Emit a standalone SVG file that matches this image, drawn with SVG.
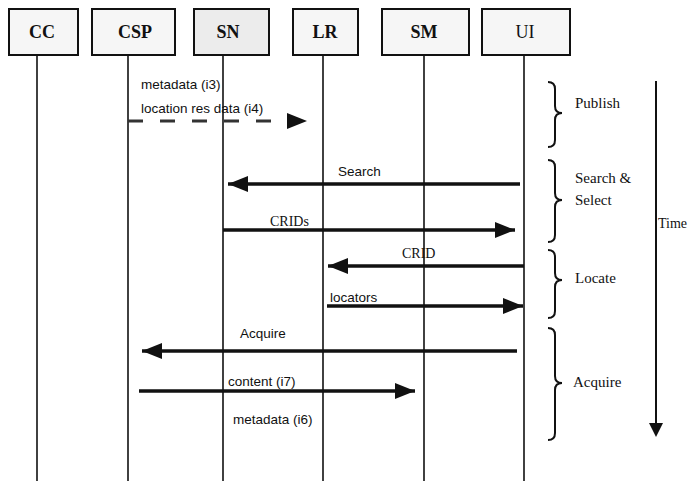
<svg xmlns="http://www.w3.org/2000/svg" width="692" height="481" viewBox="0 0 692 481">
<style>
.box{fill:#f6f6f6;stroke:#111;stroke-width:2}
.bt{font-family:"Liberation Serif",serif;font-size:18px;font-weight:bold;text-anchor:middle;fill:#111}
.life{stroke:#111;stroke-width:1.6}
.msg{stroke:#111;stroke-width:3.5;fill:none}
.dash{stroke:#333;stroke-width:3;stroke-dasharray:15 17;fill:none}
.lbl{font-family:"Liberation Sans",sans-serif;font-size:13.5px;fill:#111}
.lbs{font-family:"Liberation Serif",serif;font-size:14px;fill:#111}
.brace{fill:none;stroke:#111;stroke-width:2}
.ph{font-family:"Liberation Serif",serif;font-size:15px;fill:#111}
</style>
<defs>
<marker id="ah" viewBox="0 0 20 16" refX="20" refY="8" markerWidth="20" markerHeight="16" markerUnits="userSpaceOnUse" orient="auto">
<path d="M0,0 L20,8 L0,16 Z" fill="#111"/>
</marker>
</defs>
<g id="lifelines">
<line class="life" x1="37" y1="55" x2="37" y2="481"/>
<line class="life" x1="128" y1="55" x2="128" y2="481"/>
<line class="life" x1="223" y1="55" x2="223" y2="481"/>
<line class="life" x1="323" y1="55" x2="323" y2="481"/>
<line class="life" x1="424" y1="55" x2="424" y2="481"/>
<line class="life" x1="524" y1="55" x2="524" y2="481"/>
</g>
<g id="node-CC"><rect class="box" x="9" y="9" width="69" height="46"/><text class="bt" x="42" y="38">CC</text></g>
<g id="node-CSP"><rect class="box" x="92" y="9" width="83" height="46"/><text class="bt" x="135" y="38">CSP</text></g>
<g id="node-SN"><rect class="box" x="194" y="9" width="75" height="46" style="fill:#ececec"/><text class="bt" x="228" y="38">SN</text></g>
<g id="node-LR"><rect class="box" x="293" y="9" width="65" height="46"/><text class="bt" x="325" y="38">LR</text></g>
<g id="node-SM"><rect class="box" x="382" y="9" width="87" height="46"/><text class="bt" x="424" y="38">SM</text></g>
<g id="node-UI"><rect class="box" x="482" y="9" width="88" height="46"/><text class="bt" x="525" y="38" style="font-weight:normal">UI</text></g>
<g id="connectors">
<line class="dash" x1="128" y1="121" x2="288" y2="121"/>
<path d="M287,113 L307,121 L287,129 Z" fill="#111"/>
<line class="msg" x1="520" y1="184" x2="228" y2="184" marker-end="url(#ah)"/>
<line class="msg" x1="223" y1="230" x2="515" y2="230" marker-end="url(#ah)"/>
<line class="msg" x1="524" y1="266" x2="328" y2="266" marker-end="url(#ah)"/>
<line class="msg" x1="327" y1="306" x2="523" y2="306" marker-end="url(#ah)"/>
<line class="msg" x1="517" y1="351" x2="142" y2="351" marker-end="url(#ah)"/>
<line class="msg" x1="139" y1="391" x2="415" y2="391" marker-end="url(#ah)"/>
</g>
<g id="labels">
<text class="lbl" x="141" y="89">metadata (i3)</text>
<text class="lbl" x="141" y="113">location res data (i4)</text>
<text class="lbl" x="338" y="176">Search</text>
<text class="lbs" x="270" y="226">CRIDs</text>
<text class="lbs" x="402" y="258">CRID</text>
<text class="lbl" x="330" y="302">locators</text>
<text class="lbl" x="240" y="338">Acquire</text>
<text class="lbl" x="228" y="386">content  (i7)</text>
<text class="lbl" x="233" y="424">metadata  (i6)</text>
</g>
<g id="phases">
<path class="brace" d="M548,82 Q555,82 555,89 L555,106 Q555,113 562,113 Q555,113 555,120 L555,140 Q555,147 548,147"/>
<text class="ph" x="575" y="108">Publish</text>
<path class="brace" d="M548,160 Q555,160 555,167 L555,193 Q555,200 562,200 Q555,200 555,207 L555,235 Q555,242 548,242"/>
<text class="ph" x="575" y="183">Search &amp;</text>
<text class="ph" x="575" y="205">Select</text>
<path class="brace" d="M548,250 Q555,250 555,257 L555,273 Q555,280 562,280 Q555,280 555,287 L555,311 Q555,318 548,318"/>
<text class="ph" x="575" y="283">Locate</text>
<path class="brace" d="M548,328 Q555,328 555,335 L555,376 Q555,383 562,383 Q555,383 555,390 L555,433 Q555,440 548,440"/>
<text class="ph" x="573" y="387">Acquire</text>
</g>
<g id="time">
<line x1="656" y1="81" x2="656" y2="424" stroke="#111" stroke-width="2"/>
<path d="M649,423 L663,423 L656,437 Z" fill="#111"/>
<text class="ph" x="658" y="228" style="font-size:14px">Time</text>
</g>
</svg>
